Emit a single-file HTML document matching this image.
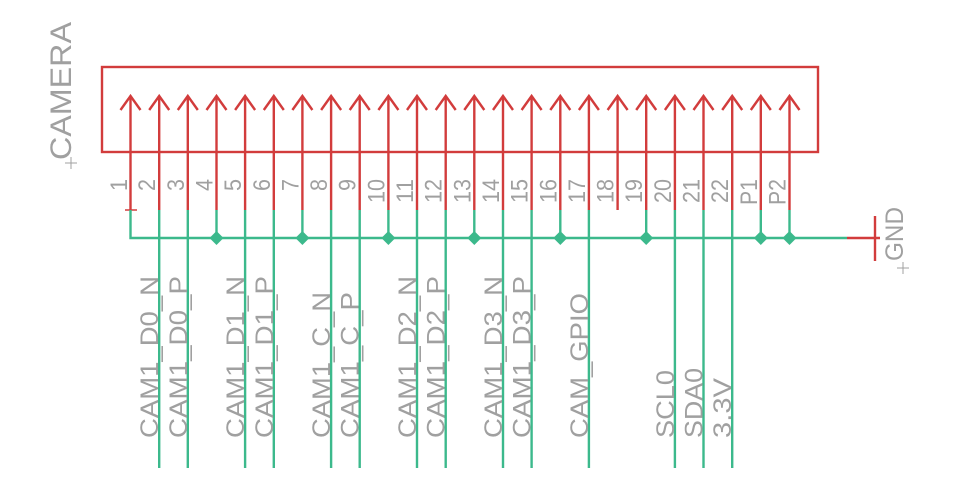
<!DOCTYPE html>
<html><head><meta charset="utf-8"><style>
html,body{margin:0;padding:0;background:#fff;}
svg{display:block;}
text{font-family:"Liberation Sans",Arial,sans-serif;fill:#a0a0a0;}
</style></head><body>
<svg width="956" height="493" viewBox="0 0 956 493" xmlns="http://www.w3.org/2000/svg">
<g stroke="#d23c3c" stroke-width="2.4" fill="none">
<rect x="102" y="67" width="716" height="85"/>
<polyline points="120.5,110 130.5,96 140.5,110"/><line x1="130.5" y1="96" x2="130.5" y2="210"/>
<polyline points="149.2,110 159.2,96 169.2,110"/><line x1="159.2" y1="96" x2="159.2" y2="210"/>
<polyline points="177.8,110 187.8,96 197.8,110"/><line x1="187.8" y1="96" x2="187.8" y2="210"/>
<polyline points="206.5,110 216.5,96 226.5,110"/><line x1="216.5" y1="96" x2="216.5" y2="210"/>
<polyline points="235.1,110 245.1,96 255.1,110"/><line x1="245.1" y1="96" x2="245.1" y2="210"/>
<polyline points="263.8,110 273.8,96 283.8,110"/><line x1="273.8" y1="96" x2="273.8" y2="210"/>
<polyline points="292.4,110 302.4,96 312.4,110"/><line x1="302.4" y1="96" x2="302.4" y2="210"/>
<polyline points="321.1,110 331.1,96 341.1,110"/><line x1="331.1" y1="96" x2="331.1" y2="210"/>
<polyline points="349.7,110 359.7,96 369.7,110"/><line x1="359.7" y1="96" x2="359.7" y2="210"/>
<polyline points="378.4,110 388.4,96 398.4,110"/><line x1="388.4" y1="96" x2="388.4" y2="210"/>
<polyline points="407,110 417,96 427,110"/><line x1="417" y1="96" x2="417" y2="210"/>
<polyline points="435.7,110 445.7,96 455.7,110"/><line x1="445.7" y1="96" x2="445.7" y2="210"/>
<polyline points="464.3,110 474.3,96 484.3,110"/><line x1="474.3" y1="96" x2="474.3" y2="210"/>
<polyline points="493,110 503,96 513,110"/><line x1="503" y1="96" x2="503" y2="210"/>
<polyline points="521.6,110 531.6,96 541.6,110"/><line x1="531.6" y1="96" x2="531.6" y2="210"/>
<polyline points="550.3,110 560.3,96 570.3,110"/><line x1="560.3" y1="96" x2="560.3" y2="210"/>
<polyline points="578.9,110 588.9,96 598.9,110"/><line x1="588.9" y1="96" x2="588.9" y2="210"/>
<polyline points="607.6,110 617.6,96 627.6,110"/><line x1="617.6" y1="96" x2="617.6" y2="210"/>
<polyline points="636.2,110 646.2,96 656.2,110"/><line x1="646.2" y1="96" x2="646.2" y2="210"/>
<polyline points="664.9,110 674.9,96 684.9,110"/><line x1="674.9" y1="96" x2="674.9" y2="210"/>
<polyline points="693.5,110 703.5,96 713.5,110"/><line x1="703.5" y1="96" x2="703.5" y2="210"/>
<polyline points="722.2,110 732.2,96 742.2,110"/><line x1="732.2" y1="96" x2="732.2" y2="210"/>
<polyline points="750.8,110 760.8,96 770.8,110"/><line x1="760.8" y1="96" x2="760.8" y2="210"/>
<polyline points="779.5,110 789.5,96 799.5,110"/><line x1="789.5" y1="96" x2="789.5" y2="210"/>
<line x1="125" y1="210" x2="137" y2="210" stroke-width="1.5"/>
<line x1="847" y1="238" x2="880" y2="238"/>
<line x1="875" y1="216" x2="875" y2="261"/>
</g>
<g stroke="#3cb98c" stroke-width="2.4" fill="none">
<polyline points="130.5,210 130.5,238 847,238"/>
<line x1="159.2" y1="210" x2="159.2" y2="468"/>
<line x1="187.8" y1="210" x2="187.8" y2="468"/>
<line x1="216.5" y1="210" x2="216.5" y2="238"/>
<line x1="245.1" y1="210" x2="245.1" y2="468"/>
<line x1="273.8" y1="210" x2="273.8" y2="468"/>
<line x1="302.4" y1="210" x2="302.4" y2="238"/>
<line x1="331.1" y1="210" x2="331.1" y2="468"/>
<line x1="359.7" y1="210" x2="359.7" y2="468"/>
<line x1="388.4" y1="210" x2="388.4" y2="238"/>
<line x1="417" y1="210" x2="417" y2="468"/>
<line x1="445.7" y1="210" x2="445.7" y2="468"/>
<line x1="474.3" y1="210" x2="474.3" y2="238"/>
<line x1="503" y1="210" x2="503" y2="468"/>
<line x1="531.6" y1="210" x2="531.6" y2="468"/>
<line x1="560.3" y1="210" x2="560.3" y2="238"/>
<line x1="588.9" y1="210" x2="588.9" y2="468"/>
<line x1="646.2" y1="210" x2="646.2" y2="238"/>
<line x1="674.9" y1="210" x2="674.9" y2="468"/>
<line x1="703.5" y1="210" x2="703.5" y2="468"/>
<line x1="732.2" y1="210" x2="732.2" y2="468"/>
<line x1="760.8" y1="210" x2="760.8" y2="238"/>
<line x1="789.5" y1="210" x2="789.5" y2="238"/>
</g>
<g fill="#3cb98c">
<polygon points="216.5,231 223.5,238 216.5,245 209.5,238"/>
<polygon points="302.4,231 309.4,238 302.4,245 295.4,238"/>
<polygon points="388.4,231 395.4,238 388.4,245 381.4,238"/>
<polygon points="474.3,231 481.3,238 474.3,245 467.3,238"/>
<polygon points="560.3,231 567.3,238 560.3,245 553.3,238"/>
<polygon points="646.2,231 653.2,238 646.2,245 639.2,238"/>
<polygon points="760.8,231 767.8,238 760.8,245 753.8,238"/>
<polygon points="789.5,231 796.5,238 789.5,245 782.5,238"/>
</g>
<g font-size="24" text-anchor="end" lengthAdjust="spacingAndGlyphs">
<text transform="translate(127,179) rotate(-90)" textLength="12" lengthAdjust="spacingAndGlyphs">1</text>
<text transform="translate(155.2,179) rotate(-90)" textLength="12" lengthAdjust="spacingAndGlyphs">2</text>
<text transform="translate(183.8,179) rotate(-90)" textLength="12" lengthAdjust="spacingAndGlyphs">3</text>
<text transform="translate(212.5,179) rotate(-90)" textLength="12" lengthAdjust="spacingAndGlyphs">4</text>
<text transform="translate(241.1,179) rotate(-90)" textLength="12" lengthAdjust="spacingAndGlyphs">5</text>
<text transform="translate(269.8,179) rotate(-90)" textLength="12" lengthAdjust="spacingAndGlyphs">6</text>
<text transform="translate(298.4,179) rotate(-90)" textLength="12" lengthAdjust="spacingAndGlyphs">7</text>
<text transform="translate(327.1,179) rotate(-90)" textLength="12" lengthAdjust="spacingAndGlyphs">8</text>
<text transform="translate(355.7,179) rotate(-90)" textLength="12" lengthAdjust="spacingAndGlyphs">9</text>
<text transform="translate(384.4,179) rotate(-90)" textLength="24" lengthAdjust="spacingAndGlyphs">10</text>
<text transform="translate(413,179) rotate(-90)" textLength="24" lengthAdjust="spacingAndGlyphs">11</text>
<text transform="translate(441.7,179) rotate(-90)" textLength="24" lengthAdjust="spacingAndGlyphs">12</text>
<text transform="translate(470.3,179) rotate(-90)" textLength="24" lengthAdjust="spacingAndGlyphs">13</text>
<text transform="translate(499,179) rotate(-90)" textLength="24" lengthAdjust="spacingAndGlyphs">14</text>
<text transform="translate(527.6,179) rotate(-90)" textLength="24" lengthAdjust="spacingAndGlyphs">15</text>
<text transform="translate(556.3,179) rotate(-90)" textLength="24" lengthAdjust="spacingAndGlyphs">16</text>
<text transform="translate(584.9,179) rotate(-90)" textLength="24" lengthAdjust="spacingAndGlyphs">17</text>
<text transform="translate(613.6,179) rotate(-90)" textLength="24" lengthAdjust="spacingAndGlyphs">18</text>
<text transform="translate(642.2,179) rotate(-90)" textLength="24" lengthAdjust="spacingAndGlyphs">19</text>
<text transform="translate(670.9,179) rotate(-90)" textLength="24" lengthAdjust="spacingAndGlyphs">20</text>
<text transform="translate(699.5,179) rotate(-90)" textLength="24" lengthAdjust="spacingAndGlyphs">21</text>
<text transform="translate(728.2,179) rotate(-90)" textLength="24" lengthAdjust="spacingAndGlyphs">22</text>
<text transform="translate(756.8,179) rotate(-90)" textLength="26" lengthAdjust="spacingAndGlyphs">P1</text>
<text transform="translate(785.5,179) rotate(-90)" textLength="26" lengthAdjust="spacingAndGlyphs">P2</text>
</g>
<g font-size="25">
<text transform="translate(158.2,438) rotate(-90)" textLength="162" lengthAdjust="spacingAndGlyphs">CAM1_D0_N</text>
<text transform="translate(186.8,438) rotate(-90)" textLength="162" lengthAdjust="spacingAndGlyphs">CAM1_D0_P</text>
<text transform="translate(244.1,438) rotate(-90)" textLength="162" lengthAdjust="spacingAndGlyphs">CAM1_D1_N</text>
<text transform="translate(272.8,438) rotate(-90)" textLength="162" lengthAdjust="spacingAndGlyphs">CAM1_D1_P</text>
<text transform="translate(330.1,438) rotate(-90)" textLength="146" lengthAdjust="spacingAndGlyphs">CAM1_C_N</text>
<text transform="translate(358.7,438) rotate(-90)" textLength="146" lengthAdjust="spacingAndGlyphs">CAM1_C_P</text>
<text transform="translate(416,438) rotate(-90)" textLength="162" lengthAdjust="spacingAndGlyphs">CAM1_D2_N</text>
<text transform="translate(444.7,438) rotate(-90)" textLength="162" lengthAdjust="spacingAndGlyphs">CAM1_D2_P</text>
<text transform="translate(502,438) rotate(-90)" textLength="162" lengthAdjust="spacingAndGlyphs">CAM1_D3_N</text>
<text transform="translate(530.6,438) rotate(-90)" textLength="162" lengthAdjust="spacingAndGlyphs">CAM1_D3_P</text>
<text transform="translate(587.9,438) rotate(-90)" textLength="145" lengthAdjust="spacingAndGlyphs">CAM_GPIO</text>
<text transform="translate(673.9,438) rotate(-90)" textLength="68" lengthAdjust="spacingAndGlyphs">SCL0</text>
<text transform="translate(702.5,438) rotate(-90)" textLength="70" lengthAdjust="spacingAndGlyphs">SDA0</text>
<text transform="translate(731.2,438) rotate(-90)" textLength="60" lengthAdjust="spacingAndGlyphs">3.3V</text>
<text transform="translate(903,261) rotate(-90)" textLength="54" lengthAdjust="spacingAndGlyphs">GND</text>
<text transform="translate(71,160) rotate(-90)" font-size="30" textLength="138" lengthAdjust="spacingAndGlyphs">CAMERA</text>
</g>
<g stroke="#a0a0a0" stroke-width="1">
<line x1="65" y1="163" x2="77" y2="163"/><line x1="71" y1="157" x2="71" y2="169"/>
<line x1="897" y1="268" x2="909" y2="268"/><line x1="903" y1="262" x2="903" y2="274"/>
</g>
</svg>
</body></html>
